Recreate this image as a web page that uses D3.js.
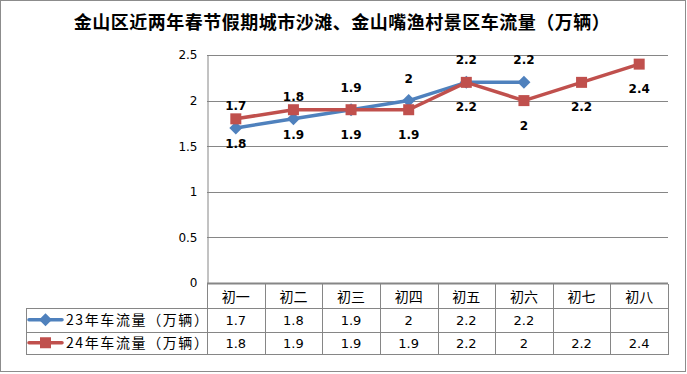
<!DOCTYPE html>
<html>
<head>
<meta charset="utf-8">
<script src="https://cdn.jsdelivr.net/npm/d3@7"></script>
<style>
    body { margin: 0; background: #fff; }
    svg { display: block; }
</style>
</head>
<body>
<div id="chart"></div>
<script>
(function(){

//chart data
var categories = ["初一", "初二", "初三", "初四", "初五", "初六", "初七", "初八"];
var seriesNames = ["23年车流量（万辆）", "24年车流量（万辆）"];
var values23 = [1.7, 1.8, 1.9, 2, 2.2, 2.2, null, null];
var values24 = [1.8, 1.9, 1.9, 1.9, 2.2, 2, 2.2, 2.4];
var yTicks = [0, 0.5, 1, 1.5, 2, 2.5];
var titleText = "金山区近两年春节假期城市沙滩、金山嘴渔村景区车流量（万辆）";

window.onload = setChart;

function setChart(){

    var width = 687, height = 374;
    var colors = ["#4F81BD", "#C0504D"];
    var cjk = "'Noto Sans CJK SC', 'DejaVu Sans', sans-serif";
    var num = "'DejaVu Sans', 'Liberation Sans', sans-serif";

    var svg = d3.select("#chart")
        .append("svg")
        .attr("width", width)
        .attr("height", height);

    //outer frame
    svg.append("rect")
        .attr("x", 0.5).attr("y", 0.5)
        .attr("width", 685).attr("height", 371)
        .attr("fill", "#fff")
        .attr("stroke", "#8c8c8c");

    //title
    svg.append("text")
        .attr("x", 342).attr("y", 29)
        .attr("text-anchor", "middle")
        .attr("font-family", cjk)
        .attr("font-weight", "bold")
        .attr("font-size", 18)
        .attr("letter-spacing", 0.5)
        .attr("fill", "#000")
        .text(titleText);

    var plotLeft = 207, plotRight = 668, plotTop = 55, plotBottom = 283;

    var x = d3.scaleBand()
        .domain(categories)
        .range([plotLeft, plotRight]);

    var y = d3.scaleLinear()
        .domain([0, 2.5])
        .range([plotBottom, plotTop]);

    //gridlines
    svg.selectAll(".grid")
        .data(yTicks.filter(function(d){ return d > 0; }))
        .enter()
        .append("line")
        .attr("class", "grid")
        .attr("x1", plotLeft).attr("x2", plotRight)
        .attr("y1", function(d){ return Math.round(y(d)) + 0.5; })
        .attr("y2", function(d){ return Math.round(y(d)) + 0.5; })
        .attr("stroke", "#868686");

    //y axis
    var yAxis = svg.append("g")
        .attr("transform", "translate(" + (plotLeft + 0.5) + ",0)")
        .call(d3.axisLeft(y).tickValues(yTicks).tickSize(0).tickPadding(10)
            .tickFormat(function(d){ return String(d); }));
    yAxis.select(".domain").attr("stroke", "#868686");
    yAxis.selectAll("text")
        .attr("font-family", num)
        .attr("font-size", 12)
        .attr("fill", "#000");

    //data table
    var tableLeft = 26, rowTops = [284, 308, 331.5, 354];
    var table = svg.append("g").attr("stroke", "#868686").attr("fill", "none");

    //baseline (axis)
    table.append("line")
        .attr("x1", plotLeft).attr("x2", plotRight)
        .attr("y1", 283.5).attr("y2", 283.5)
        .attr("stroke-width", 2);

    [rowTops[1], rowTops[2], rowTops[3]].forEach(function(ry){
        table.append("line")
            .attr("x1", tableLeft).attr("x2", plotRight + 1)
            .attr("y1", Math.round(ry) + 0.5).attr("y2", Math.round(ry) + 0.5);
    });

    table.append("line")
        .attr("x1", tableLeft + 0.5).attr("x2", tableLeft + 0.5)
        .attr("y1", rowTops[1]).attr("y2", rowTops[3] + 1);

    var bounds = categories.map(function(c){ return x(c); }).concat([plotRight]);
    table.selectAll(".vline")
        .data(bounds)
        .enter()
        .append("line")
        .attr("x1", function(d){ return Math.round(d) + 0.5; })
        .attr("x2", function(d){ return Math.round(d) + 0.5; })
        .attr("y1", rowTops[0]).attr("y2", rowTops[3] + 1);

    //category header
    svg.selectAll(".cat")
        .data(categories)
        .enter()
        .append("text")
        .attr("class", "cat")
        .attr("x", function(d){ return x(d) + x.bandwidth() / 2; })
        .attr("y", 302)
        .attr("text-anchor", "middle")
        .attr("font-family", cjk)
        .attr("font-size", 14)
        .attr("fill", "#000")
        .text(function(d){ return d; });

    var allSeries = [values23, values24];

    //table rows
    allSeries.forEach(function(vals, i){
        var rowMid = (rowTops[i + 1] + rowTops[i + 2]) / 2;

        svg.selectAll(".cell" + i)
            .data(vals)
            .enter()
            .append("text")
            .attr("x", function(d, j){ return x(categories[j]) + x.bandwidth() / 2; })
            .attr("y", rowMid + 5)
            .attr("text-anchor", "middle")
            .attr("font-family", num)
            .attr("font-size", 13)
            .attr("fill", "#000")
            .text(function(d){ return d == null ? "" : String(d); });

        //legend key
        svg.append("line")
            .attr("x1", 29).attr("x2", 62)
            .attr("y1", rowMid).attr("y2", rowMid)
            .attr("stroke", colors[i])
            .attr("stroke-width", 3.5)
            .attr("stroke-linecap", "round");
        drawMarker(svg, i, 45.5, rowMid, colors[i]);

        svg.append("text")
            .attr("x", 66).attr("y", rowMid + 5)
            .attr("font-family", cjk)
            .attr("font-size", 14)
            .attr("letter-spacing", 1.6)
            .attr("fill", "#000")
            .text(seriesNames[i]);
    });

    //lines and markers
    var line = d3.line()
        .defined(function(d){ return d.v != null; })
        .x(function(d){ return x(d.c) + x.bandwidth() / 2; })
        .y(function(d){ return y(d.v); });

    allSeries.forEach(function(vals, i){
        var pts = vals.map(function(v, j){ return {c: categories[j], v: v}; });

        svg.append("path")
            .datum(pts)
            .attr("d", line)
            .attr("fill", "none")
            .attr("stroke", colors[i])
            .attr("stroke-width", 3.5)
            .attr("stroke-linejoin", "round");

        pts.forEach(function(p){
            if (p.v == null) return;
            drawMarker(svg, i, x(p.c) + x.bandwidth() / 2, y(p.v), colors[i]);
        });
    });

    //data labels: 23 above, 24 below
    allSeries.forEach(function(vals, i){
        svg.selectAll(".lbl" + i)
            .data(vals.map(function(v, j){ return {c: categories[j], v: v}; })
                .filter(function(d){ return d.v != null; }))
            .enter()
            .append("text")
            .attr("x", function(d){ return x(d.c) + x.bandwidth() / 2; })
            .attr("y", function(d){ return y(d.v) + (i === 0 ? -18 : 29); })
            .attr("text-anchor", "middle")
            .attr("font-family", num)
            .attr("font-weight", "bold")
            .attr("font-size", 12)
            .attr("fill", "#000")
            .text(function(d){ return String(d.v); });
    });
};

//MARKER FUNCTION
function drawMarker(svg, type, cx, cy, color){
    if (type === 0){
        var r = 6.5;
        svg.append("path")
            .attr("d", "M" + cx + "," + (cy - r) + "L" + (cx + r) + "," + cy +
                "L" + cx + "," + (cy + r) + "L" + (cx - r) + "," + cy + "Z")
            .attr("fill", color);
    } else {
        var s = 11;
        svg.append("rect")
            .attr("x", cx - s / 2).attr("y", cy - s / 2)
            .attr("width", s).attr("height", s)
            .attr("fill", color);
    }
};

})();
</script>
</body>
</html>
